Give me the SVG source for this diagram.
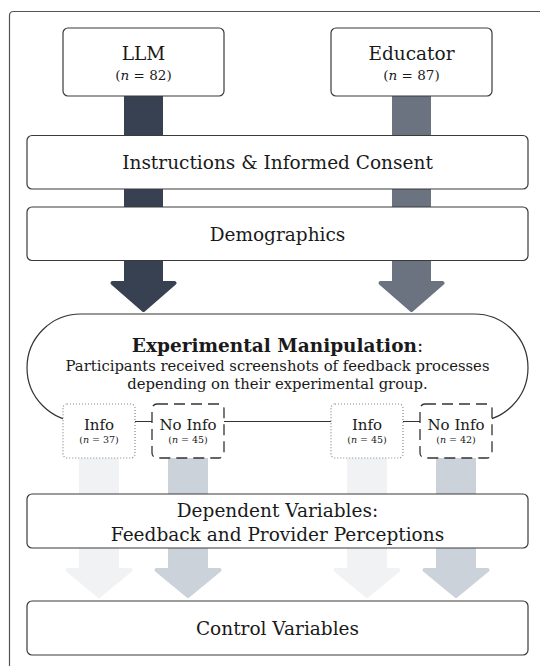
<svg xmlns="http://www.w3.org/2000/svg" width="540" height="666" viewBox="0 0 540 666">
<style>
  text { font-family: "DejaVu Serif", "Liberation Serif", serif; fill: #1a1a1a; text-anchor: middle; }
  .box { fill: #fff; stroke: #3a3a3a; stroke-width: 1.2; }
  .t1 { font-size: 18.5px; }
  .t2 { font-size: 13.5px; }
  .t3 { font-size: 14.8px; }
  .t4 { font-size: 15px; }
  .ts { font-size: 9.5px; }
  .it { font-style: italic; }
  .dotted { fill: #fff; stroke: #888; stroke-width: 1.2; stroke-dasharray: 1 2; }
  .dashed { fill: #fff; stroke: #333; stroke-width: 1.3; stroke-dasharray: 11 6; }
  .arr { stroke-width: 4; stroke-linejoin: round; }
</style>
<rect width="540" height="666" fill="#fff"/>
<path d="M9.5 666 V15.5 Q9.5 11.5 13.5 11.5 H540" fill="none" stroke="#555" stroke-width="1.2"/>

<g id="connectors">
  <path class="arr" fill="#374151" stroke="#374151" d="M126 96 V283 H112.5 L143.5 310 L174.5 283 H161 V96 Z"/>
  <path class="arr" fill="#6b7280" stroke="#6b7280" d="M394 96 V283 H380.5 L411.5 310 L442.5 283 H429 V96 Z"/>
  <path class="arr" fill="#f1f2f4" stroke="#f1f2f4" d="M81 458 V570 H67.5 L99 596 L130.5 570 H117 V458 Z"/>
  <path class="arr" fill="#ccd2da" stroke="#ccd2da" d="M170 458 V570 H156.5 L188 596 L219.5 570 H206 V458 Z"/>
  <path class="arr" fill="#f1f2f4" stroke="#f1f2f4" d="M349 458 V570 H335.5 L367 596 L398.5 570 H385 V458 Z"/>
  <path class="arr" fill="#ccd2da" stroke="#ccd2da" d="M438 458 V570 H424.5 L456 596 L487.5 570 H474 V458 Z"/>
</g>

<g id="llm">
  <rect class="box" x="63" y="28" width="161" height="68" rx="5"/>
  <text class="t1" x="143.5" y="60">LLM</text>
  <text class="t2" x="143.5" y="80">(<tspan class="it">n</tspan> = 82)</text>
</g>
<g id="educator">
  <rect class="box" x="331" y="28" width="161" height="68" rx="5"/>
  <text class="t1" x="411.5" y="60">Educator</text>
  <text class="t2" x="411.5" y="80">(<tspan class="it">n</tspan> = 87)</text>
</g>
<g id="instructions">
  <rect class="box" x="27" y="135.5" width="501" height="53.5" rx="5"/>
  <text class="t1" x="277.5" y="169">Instructions &amp; Informed Consent</text>
</g>
<g id="demographics">
  <rect class="box" x="27" y="207" width="501" height="53.5" rx="5"/>
  <text class="t1" x="277.5" y="241">Demographics</text>
</g>
<g id="manipulation">
  <rect x="27" y="314" width="501" height="107.5" rx="53.75" fill="#fff" stroke="#333" stroke-width="1.2"/>
  <text class="t1" x="277.5" y="352"><tspan font-weight="bold">Experimental Manipulation</tspan>:</text>
  <text class="t3" x="277.5" y="371">Participants received screenshots of feedback processes</text>
  <text class="t3" x="277.5" y="389">depending on their experimental group.</text>
</g>
<g id="llm-info">
  <rect class="dotted" x="63" y="404" width="72" height="54" rx="4"/>
  <text class="t4" x="99" y="430">Info</text>
  <text class="ts" x="99" y="443">(<tspan class="it">n</tspan> = 37)</text>
</g>
<g id="llm-noinfo">
  <rect class="dashed" x="152" y="404" width="72" height="54" rx="5"/>
  <text class="t4" x="188" y="430">No Info</text>
  <text class="ts" x="188" y="443">(<tspan class="it">n</tspan> = 45)</text>
</g>
<g id="edu-info">
  <rect class="dotted" x="331" y="404" width="72" height="54" rx="4"/>
  <text class="t4" x="367" y="430">Info</text>
  <text class="ts" x="367" y="443">(<tspan class="it">n</tspan> = 45)</text>
</g>
<g id="edu-noinfo">
  <rect class="dashed" x="420" y="404" width="72" height="54" rx="5"/>
  <text class="t4" x="456" y="430">No Info</text>
  <text class="ts" x="456" y="443">(<tspan class="it">n</tspan> = 42)</text>
</g>
<g id="dependent">
  <rect class="box" x="27" y="494" width="501" height="54" rx="5"/>
  <text class="t1" x="277.5" y="517">Dependent Variables:</text>
  <text class="t1" x="277.5" y="541">Feedback and Provider Perceptions</text>
</g>
<g id="control">
  <rect class="box" x="27" y="601" width="501" height="54" rx="5"/>
  <text class="t1" x="277.5" y="635">Control Variables</text>
</g>
</svg>
